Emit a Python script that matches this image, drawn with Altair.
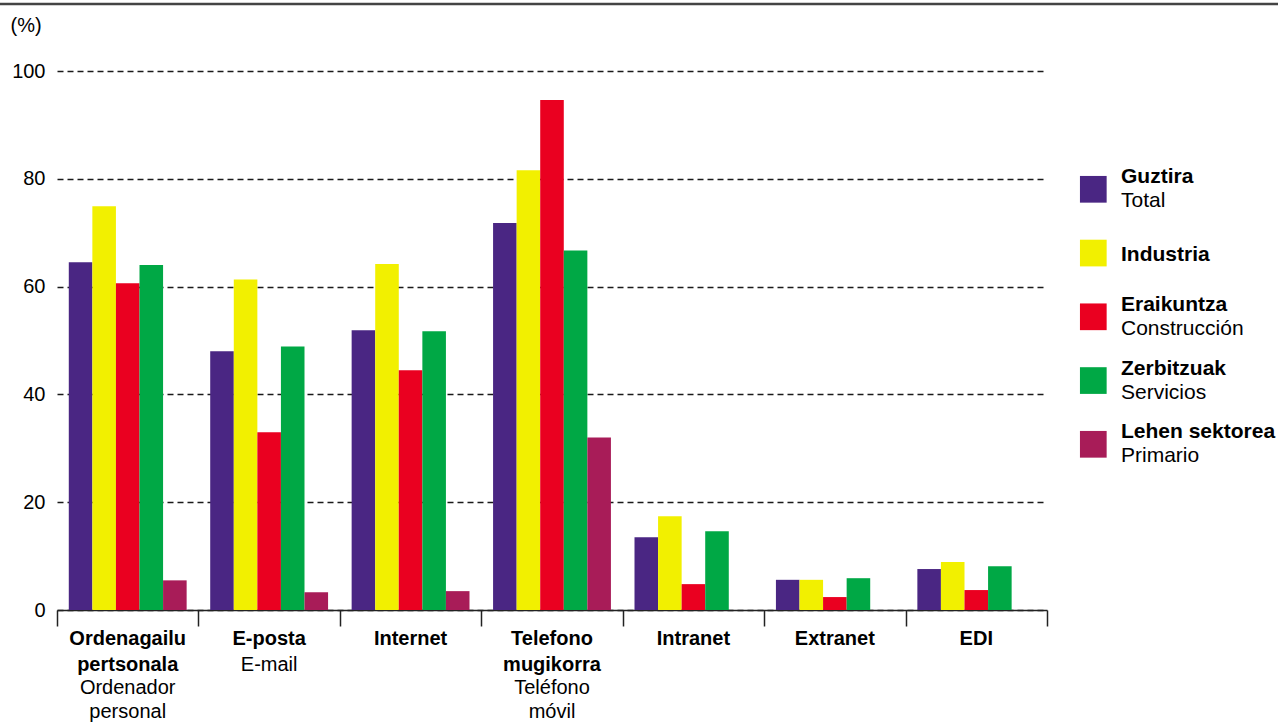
import altair as alt
import pandas as pd

FONT = "Liberation Sans"

categories_eu = ["Ordenagailu\npertsonala", "E-posta", "Internet", "Telefono\nmugikorra",
                 "Intranet", "Extranet", "EDI"]
categories_es = ["Ordenador\npersonal", "E-mail", "", "Teléfono\nmóvil", "", "", ""]

series_eu = ["Guztira", "Industria", "Eraikuntza", "Zerbitzuak", "Lehen sektorea"]
series_es = ["Total", "", "Construcción", "Servicios", "Primario"]
colors = ["#4A2683", "#F2F000", "#EA0020", "#00A845", "#A81C58"]

guztira = [64.5, 48.0, 51.9, 71.8, 13.5, 5.6, 7.6]
industria = [74.9, 61.3, 64.2, 81.6, 17.4, 5.6, 8.9]
eraikuntza = [60.6, 33.0, 44.5, 94.6, 4.8, 2.4, 3.7]
zerbitzuak = [64.0, 48.9, 51.7, 66.7, 14.6, 5.9, 8.1]
lehen = [5.5, 3.3, 3.5, 32.0, None, None, None]

y_ticks = [0, 20, 40, 60, 80, 100]

rows = []
for s, vals in zip(series_eu, [guztira, industria, eraikuntza, zerbitzuak, lehen]):
    for c, v in zip(categories_eu, vals):
        if v is not None:
            rows.append({"cat": c, "series": s, "value": v})
df = pd.DataFrame(rows)

cat_df = pd.DataFrame({
    "cat": categories_eu,
    "eu": categories_eu,
    "es": categories_es,
    "nl": [e.count("\n") + 1 for e in categories_eu],
})

leg_df = pd.DataFrame({
    "series": series_eu,
    "es": series_es,
    "idx": list(range(len(series_eu))),
})

W, H = 990, 539
LH = 25.5
LH_ES = 24

color_scale = alt.Scale(domain=series_eu, range=colors)

bars = alt.Chart(df).mark_bar().encode(
    x=alt.X("cat:N", sort=categories_eu,
            scale=alt.Scale(domain=categories_eu, paddingInner=0, paddingOuter=0),
            axis=alt.Axis(title=None, labels=False, tickBand="extent", tickSize=16,
                          tickColor="#222222", tickWidth=1.5, domainColor="#222222",
                          domainWidth=1.5, grid=False)),
    xOffset=alt.XOffset("series:N",
                        scale=alt.Scale(domain=series_eu, paddingInner=0, paddingOuter=0.5)),
    y=alt.Y("value:Q", scale=alt.Scale(domain=[0, 100], nice=False),
            axis=alt.Axis(values=y_ticks, grid=True, gridDash=[6, 4], gridColor="#1a1a1a",
                          gridWidth=1.4, domain=False, ticks=False, labelFontSize=20,
                          labelColor="#000000", labelPadding=12, labelFont=FONT,
                          title="(%)", titleAngle=0, titleAlign="left",
                          titleBaseline="middle", titleX=-47, titleY=-46,
                          titleFontSize=20, titleFontWeight="normal", titleFont=FONT,
                          titleColor="#000000")),
    color=alt.Color("series:N", scale=color_scale, legend=None),
)

xlab_bold = alt.Chart(cat_df).mark_text(
    font=FONT, fontSize=20, fontWeight="bold", align="center", baseline="alphabetic",
    lineBreak="\n", lineHeight=LH, color="#000000"
).encode(
    x=alt.X("cat:N", sort=categories_eu),
    y=alt.value(574),
    text="eu:N",
)

# Spanish labels start below the Basque lines (one or two of them)
xlab_es1 = alt.Chart(cat_df).transform_filter("datum.es != '' && datum.nl == 1").mark_text(
    font=FONT, fontSize=20, fontWeight="normal", align="center", baseline="alphabetic",
    lineBreak="\n", lineHeight=LH_ES, color="#000000"
).encode(
    x=alt.X("cat:N", sort=categories_eu),
    y=alt.value(574 + LH),
    text="es:N",
)

xlab_es2 = alt.Chart(cat_df).transform_filter("datum.es != '' && datum.nl == 2").mark_text(
    font=FONT, fontSize=20, fontWeight="normal", align="center", baseline="alphabetic",
    lineBreak="\n", lineHeight=LH_ES, color="#000000"
).encode(
    x=alt.X("cat:N", sort=categories_eu),
    y=alt.value(574 + 2 * LH - 2),
    text="es:N",
)

leg_y = alt.Y("idx:Q", scale=alt.Scale(domain=[0, 4], range=[118.3, 373.3]), axis=None)

leg_sq = alt.Chart(leg_df).mark_square(size=713, opacity=1).encode(
    x=alt.value(1036.3),
    y=leg_y,
    color=alt.Color("series:N", scale=color_scale, legend=None),
)

leg_bold_sub = alt.Chart(leg_df).transform_filter("datum.es != ''").mark_text(
    font=FONT, fontSize=21, fontWeight="bold", align="left", baseline="alphabetic",
    dy=-6, color="#000000"
).encode(x=alt.value(1064), y=leg_y, text="series:N")

leg_bold_alone = alt.Chart(leg_df).transform_filter("datum.es == ''").mark_text(
    font=FONT, fontSize=21, fontWeight="bold", align="left", baseline="alphabetic",
    dy=7.5, color="#000000"
).encode(x=alt.value(1064), y=leg_y, text="series:N")

leg_sub = alt.Chart(leg_df).transform_filter("datum.es != ''").mark_text(
    font=FONT, fontSize=21, fontWeight="normal", align="left", baseline="alphabetic",
    dy=18, color="#000000"
).encode(x=alt.value(1064), y=leg_y, text="es:N")

top_rule = alt.Chart(pd.DataFrame({"a": [0]})).mark_rule(
    color="#444444", strokeWidth=2.5
).encode(x=alt.value(-57), x2=alt.value(1221), y=alt.value(-67))

chart = alt.layer(
    bars, xlab_bold, xlab_es1, xlab_es2, leg_sq, leg_bold_sub, leg_bold_alone, leg_sub, top_rule
).resolve_scale(y="independent").properties(
    width=W, height=H,
    autosize=alt.AutoSizeParams(type="none"),
    padding={"left": 57, "top": 71, "right": 231, "bottom": 112},
).configure(font=FONT).configure_view(strokeWidth=0, stroke="transparent")

chart.save("out.html", embed_options={"renderer": "svg", "actions": False})
